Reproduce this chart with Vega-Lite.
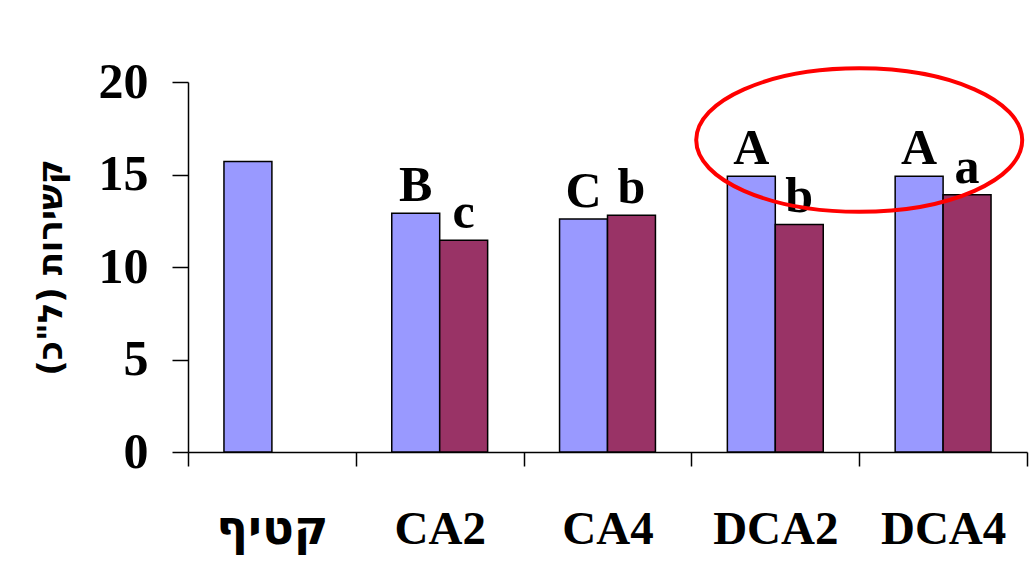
{
  "$schema": "https://vega.github.io/schema/vega-lite/v6.json",
  "autosize": {"type": "none"},
  "padding": {"left": 188, "top": 82, "right": 8, "bottom": 117},
  "width": 839,
  "height": 370,
  "background": "white",
  "config": {
    "view": {"stroke": null},
    "font": "Liberation Serif",
    "axis": {
      "domainColor": "black",
      "domainWidth": 1.5,
      "tickColor": "black",
      "tickWidth": 1.5,
      "labelColor": "black",
      "titleColor": "black",
      "labelFont": "Liberation Serif",
      "titleFont": "Liberation Serif",
      "labelFontWeight": "bold",
      "titleFontWeight": "bold",
      "grid": false
    }
  },
  "datasets": {
    "bars": [
      {"cat": "קטיף", "series": "a", "value": 15.7, "letter": ""},
      {"cat": "CA2", "series": "a", "value": 12.9, "letter": "B"},
      {"cat": "CA2", "series": "b", "value": 11.45, "letter": "c"},
      {"cat": "CA4", "series": "a", "value": 12.6, "letter": "C"},
      {"cat": "CA4", "series": "b", "value": 12.8, "letter": "b"},
      {"cat": "DCA2", "series": "a", "value": 14.9, "letter": "A"},
      {"cat": "DCA2", "series": "b", "value": 12.3, "letter": "b"},
      {"cat": "DCA4", "series": "a", "value": 14.9, "letter": "A"},
      {"cat": "DCA4", "series": "b", "value": 13.9, "letter": "a"}
    ],
    "ellipse": [
      {"cat": "DCA4", "value": 16.86}
    ]
  },
  "layer": [
    {
      "data": {"name": "bars"},
      "mark": {"type": "bar", "stroke": "black", "strokeWidth": 1.5},
      "encoding": {
        "x": {
          "field": "cat",
          "type": "nominal",
          "sort": ["קטיף", "CA2", "CA4", "DCA2", "DCA4"],
          "scale": {"paddingInner": 0, "paddingOuter": 0},
          "axis": {
            "title": null,
            "labelAngle": 0,
            "tickBand": "extent",
            "tickSize": 14,
            "labelFontSize": 47,
            "labelPadding": 40,
            "labelBaseline": "top",
            "labelFont": {"condition": {"test": "datum.value == 'קטיף'", "value": "DejaVu Sans"}, "value": "Liberation Serif"}
          }
        },
        "xOffset": {
          "field": "series",
          "type": "nominal",
          "scale": {"domain": ["a", "b"], "paddingInner": 0, "paddingOuter": 0.75}
        },
        "y": {
          "field": "value",
          "type": "quantitative",
          "scale": {"domain": [0, 20], "nice": false},
          "axis": {
            "title": "קשירות (ל\"כ)",
            "titleFont": "DejaVu Sans",
            "titleFontSize": 34,
            "titlePadding": 30,
            "values": [0, 5, 10, 15, 20],
            "tickSize": 16,
            "labelFontSize": 50,
            "labelPadding": 24
          }
        },
        "color": {
          "field": "series",
          "type": "nominal",
          "scale": {"domain": ["a", "b"], "range": ["#9999FF", "#993366"]},
          "legend": null
        }
      }
    },
    {
      "data": {"name": "bars"},
      "mark": {"type": "text", "fontSize": 50, "fontWeight": "bold", "dy": -12, "baseline": "alphabetic", "align": "center", "color": "black"},
      "encoding": {
        "x": {"field": "cat", "type": "nominal", "sort": ["קטיף", "CA2", "CA4", "DCA2", "DCA4"]},
        "xOffset": {"field": "series", "type": "nominal"},
        "y": {"field": "value", "type": "quantitative"},
        "text": {"field": "letter"}
      }
    },
    {
      "data": {"name": "ellipse"},
      "mark": {
        "type": "point",
        "shape": "M -1 0 C -1 -0.243 -0.5523 -0.44 0 -0.44 C 0.5523 -0.44 1 -0.243 1 0 C 1 0.243 0.5523 0.44 0 0.44 C -0.5523 0.44 -1 0.243 -1 0 Z",
        "size": 106276,
        "filled": false,
        "stroke": "#FF0000",
        "strokeWidth": 4,
        "opacity": 1,
        "clip": false
      },
      "encoding": {
        "x": {"field": "cat", "type": "nominal", "bandPosition": 0, "sort": ["קטיף", "CA2", "CA4", "DCA2", "DCA4"]},
        "y": {"field": "value", "type": "quantitative"}
      }
    }
  ]
}
